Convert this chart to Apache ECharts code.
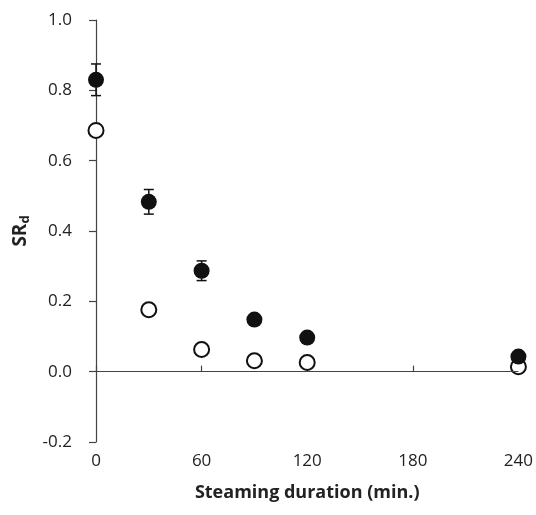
<!DOCTYPE html>
<html>
<head>
<meta charset="utf-8">
<script src="https://cdn.jsdelivr.net/npm/echarts@6/dist/echarts.min.js"></script>
<style>
  html, body { margin: 0; padding: 0; background: #fff; }
  #chart { width: 536px; height: 515px; }
</style>
</head>
<body>
<div id="chart"></div>
<script>
// steaming duration (min.)
const durations = [0, 30, 60, 90, 120, 240];
// filled circles
const filledValues = [0.83, 0.483, 0.287, 0.148, 0.097, 0.043];
const filledErrors = [0.045, 0.035, 0.028, 0.012, 0.01, 0.008];
// open circles
const openValues = [0.686, 0.176, 0.063, 0.031, 0.026, 0.014];
const xTicks = [0, 60, 120, 180, 240];

const chart = echarts.init(document.getElementById('chart'));

const font = '"Open Sans", "DejaVu Sans", sans-serif';
const textColor = '#222';

function errorBarItem(params, api) {
  const x = api.value(0);
  const low = api.coord([x, api.value(1)]);
  const high = api.coord([x, api.value(2)]);
  const half = 5;
  const style = { stroke: '#111', lineWidth: 1.5 };
  return {
    type: 'group',
    children: [
      { type: 'line', shape: { x1: low[0], y1: low[1], x2: high[0], y2: high[1] }, style },
      { type: 'line', shape: { x1: low[0] - half, y1: low[1], x2: low[0] + half, y2: low[1] }, style },
      { type: 'line', shape: { x1: high[0] - half, y1: high[1], x2: high[0] + half, y2: high[1] }, style }
    ]
  };
}

const option = {
  backgroundColor: '#fff',
  animation: false,
  grid: { left: 96, right: 13, top: 20, bottom: 73 },
  xAxis: {
    type: 'value',
    min: 0,
    max: 240,
    interval: 60,
    name: 'Steaming duration (min.)',
    nameLocation: 'middle',
    nameGap: 42,
    nameTextStyle: { fontFamily: font, fontSize: 18, fontWeight: 'bold', color: textColor },
    axisLine: { lineStyle: { color: '#444', width: 1.2 } },
    axisTick: { show: true, inside: true, length: 6, lineStyle: { color: '#444', width: 1.2 } },
    axisLabel: {
      fontFamily: font, fontSize: 17, color: textColor, margin: 11,
      formatter: v => (xTicks.includes(v) ? String(v) : '')
    },
    splitLine: { show: false }
  },
  yAxis: {
    type: 'value',
    min: -0.2,
    max: 1.0,
    interval: 0.2,
    name: '{b|SR}{s|d}',
    nameLocation: 'middle',
    nameRotate: 90,
    nameGap: 60,
    nameTextStyle: {
      rich: {
        b: { fontFamily: font, fontSize: 19, fontWeight: 'bold', color: textColor },
        s: { fontFamily: font, fontSize: 13, fontWeight: 'bold', color: textColor, verticalAlign: 'bottom', padding: [9, 0, 0, 0] }
      }
    },
    axisLine: { show: true, lineStyle: { color: '#444', width: 1.2 } },
    axisTick: { show: true, length: 7, lineStyle: { color: '#444', width: 1.2 } },
    axisLabel: {
      fontFamily: font, fontSize: 17, color: textColor, margin: 24,
      formatter: v => v.toFixed(1)
    },
    splitLine: { show: false }
  },
  series: [
    {
      name: 'error',
      type: 'custom',
      renderItem: errorBarItem,
      data: durations.map((d, i) => [d, filledValues[i] - filledErrors[i], filledValues[i] + filledErrors[i]]),
      z: 2
    },
    {
      name: 'open',
      type: 'scatter',
      symbol: 'circle',
      symbolSize: 15,
      itemStyle: { color: '#fff', borderColor: '#111', borderWidth: 2, opacity: 1 },
      data: durations.map((d, i) => [d, openValues[i]]),
      markLine: {
        silent: true,
        symbol: 'none',
        label: { show: false },
        lineStyle: { color: '#444', width: 1.2, type: 'solid' },
        data: [{ yAxis: 0 }]
      },
      z: 3
    },
    {
      name: 'filled',
      type: 'scatter',
      symbol: 'circle',
      symbolSize: 16,
      itemStyle: { color: '#111', opacity: 1 },
      data: durations.map((d, i) => [d, filledValues[i]]),
      z: 4
    }
  ]
};

chart.setOption(option);
</script>
</body>
</html>
